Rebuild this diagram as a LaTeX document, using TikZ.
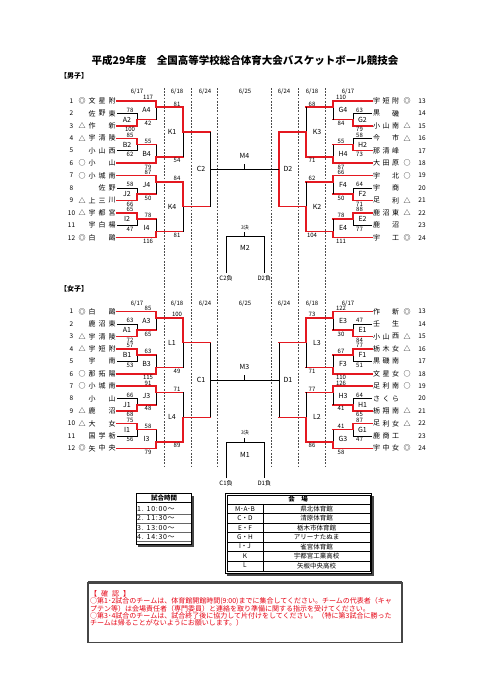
\documentclass[tikz,border=0pt]{standalone}
\usepackage{fontspec}
\setmainfont{Noto Sans CJK JP}
\definecolor{rline}{RGB}{228,24,32}
\definecolor{rtext}{RGB}{230,0,18}
\definecolor{dgray}{RGB}{70,70,70}
\newcount\nodecnt
\tikzset{
 nn/.code={\global\advance\nodecnt by 1\relax\edef\tmpnm{N\the\nodecnt}\pgfkeysalso{name/.expand once=\tmpnm}},
 rd/.style={draw=rline,line width=1.5pt,line cap=rect},
 bk/.style={draw=black,line width=0.6pt},
 dsh/.style={draw=black!70,line width=0.5pt,dash pattern=on 1.8pt off 1.4pt},
 team/.style={font=\fontsize{7}{7}\selectfont,inner sep=0pt},
 num/.style={font=\fontsize{6.5}{6.5}\selectfont,inner sep=0pt},
 scr/.style={font=\fontsize{6}{6}\selectfont,inner sep=0pt},
 mlab/.style={font=\fontsize{7}{7}\selectfont,inner sep=0pt},
 dt/.style={font=\fontsize{6}{6}\selectfont,inner sep=0pt},
 note/.style={font=\fontsize{7}{7}\selectfont,text=rtext,inner sep=0pt,anchor=west},
 tbl/.style={font=\fontsize{6.5}{6.5}\selectfont,inner sep=0pt},
 tim/.style={font=\fontsize{7}{7}\selectfont\addfontfeature{LetterSpace=10},inner sep=0pt,anchor=west},
}
\newcommand\YY[1]{(\base+6.215*(#1))}
% team rows
\newcommand\tmL[6]{%
 \node[num,nn] at (71.5,{\YY{#1}}) {#2};
 \ifx&#3&\else\node[team,nn] at (82,{\YY{#1}}) {#3};\fi
 \ifx&#4&\else\node[team,nn] at (92,{\YY{#1}}) {#4};\fi
 \ifx&#5&\else\node[team,nn] at (102,{\YY{#1}}) {#5};\fi
 \ifx&#6&\else\node[team,nn] at (112,{\YY{#1}}) {#6};\fi}
\newcommand\tmR[6]{%
 \node[num,nn] at (422,{\YY{#1}}) {#2};
 \ifx&#3&\else\node[team,nn] at (407,{\YY{#1}}) {#3};\fi
 \ifx&#4&\else\node[team,nn] at (376.5,{\YY{#1}}) {#4};\fi
 \ifx&#5&\else\node[team,nn] at (386,{\YY{#1}}) {#5};\fi
 \ifx&#6&\else\node[team,nn] at (395.5,{\YY{#1}}) {#6};\fi}
% bracket pieces
\newcommand\seedl[1]{\draw[rd] (\xT,{\YY{#1}}) -- (\xB,{\YY{#1}});}
\newcommand\mtA[4]{%
 \draw[#3] (\xT,{\YY{#1}}) -- (\xA,{\YY{#1}}) -- (\xA,{\YY{#1+1}});
 \draw[#4] (\xT,{\YY{#2}}) -- (\xA,{\YY{#2}}) -- (\xA,{\YY{#1+1}});
 \draw[rd] (\xA,{\YY{#1+1}}) -- (\xB,{\YY{#1+1}});}
\newcommand\mtB[5]{%
 \draw[#4] (\xB,{\YY{#1}}) -- (\xB,{\YY{#3}});
 \draw[#5] (\xB,{\YY{#2}}) -- (\xB,{\YY{#3}});
 \draw[rd] (\xB,{\YY{#3}}) -- (\xC,{\YY{#3}});}
\newcommand\mtC[4]{%
 \draw[#3] (\xC,{\YY{#1}}) -- (\xC,{\YY{(#1+#2)/2}});
 \draw[#4] (\xC,{\YY{#2}}) -- (\xC,{\YY{(#1+#2)/2}});
 \draw[rd] (\xC,{\YY{(#1+#2)/2}}) -- (\xD,{\YY{(#1+#2)/2}});}
% scores and labels
\newcommand\scA[3]{\node[scr,anchor=south,nn] at (#1,{\YY{#2}-0.9}) {#3};}
\newcommand\scB[3]{\node[scr,anchor=north,nn] at (#1,{\YY{#2}+1.3}) {#3};}
\newcommand\mlb[3]{\node[mlab,nn] at (#1,{\YY{#2}}) {#3};}
% side setups
\newcommand\leftside{\def\xT{117}\def\xA{137}\def\xB{156}\def\xC{183}\def\xD{210}%
 \def\sA{130}\def\sB{148}\def\sC{177}\def\lA{127}\def\lB{146.5}\def\lC{172}}
\newcommand\rightside{\def\xT{372}\def\xA{353}\def\xB{333}\def\xC{306}\def\xD{279}%
 \def\sA{359.5}\def\sB{341}\def\sC{312}\def\lA{362.5}\def\lB{343}\def\lC{317}}
\begin{document}
\begin{tikzpicture}[x=1pt,y=-1pt]
\useasboundingbox (0,0) rectangle (481,680);
\fill[white] (0,0) rectangle (481,680);
% title
\node[nn,font=\fontsize{10.5}{10.5}\selectfont\bfseries,inner sep=0pt] (title) at (245,60) {平成29年度　全国高等学校総合体育大会バスケットボール競技会};
\node[nn,font=\fontsize{7}{7}\selectfont\bfseries,inner sep=0pt] (boyslab) at (74,76) {【男子】};
\node[nn,font=\fontsize{7}{7}\selectfont\bfseries,inner sep=0pt] (girlslab) at (74,289) {【女子】};
% dashed day separators
\foreach \x in {164,191,217,271,298,325} \draw[dsh] (\x,88) -- (\x,468);
% date headers
\foreach \yy in {92,304}{
 \node[dt,nn] at (137,\yy) {6/17};
 \node[dt,nn] at (177,\yy) {6/18};
 \node[dt,nn] at (205,\yy) {6/24};
 \node[dt,nn] at (245,\yy) {6/25};
 \node[dt,nn] at (284,\yy) {6/24};
 \node[dt,nn] at (312,\yy) {6/18};
 \node[dt,nn] at (348,\yy) {6/17};
}
%================ BOYS =================
\def\base{101}
\tmL{0}{1}{◎}{文}{星}{附}
\tmL{2}{2}{}{佐}{野}{東}
\tmL{4}{3}{△}{作}{}{新}
\tmL{6}{4}{△}{宇}{清}{陵}
\tmL{8}{5}{}{小}{山}{西}
\tmL{10}{6}{○}{小}{}{山}
\tmL{12}{7}{○}{小}{城}{南}
\tmL{14}{8}{}{}{佐}{野}
\tmL{16}{9}{△}{上}{三}{川}
\tmL{18}{10}{△}{宇}{都}{宮}
\tmL{20}{11}{}{宇}{白}{楊}
\tmL{22}{12}{◎}{白}{}{鷗}
\tmR{0}{13}{◎}{宇}{短}{附}
\tmR{2}{14}{}{黒}{}{磯}
\tmR{4}{15}{△}{小}{山}{南}
\tmR{6}{16}{△}{今}{}{市}
\tmR{8}{17}{}{那}{清}{峰}
\tmR{10}{18}{○}{大}{田}{原}
\tmR{12}{19}{○}{宇}{}{北}
\tmR{14}{20}{}{宇}{}{商}
\tmR{16}{21}{△}{足}{}{利}
\tmR{18}{22}{△}{鹿}{沼}{東}
\tmR{20}{23}{}{鹿}{}{沼}
\tmR{22}{24}{◎}{宇}{}{工}
% boys left bracket
\leftside
\mtA{2}{4}{bk}{rd}\mtA{6}{8}{rd}{bk}\mtA{14}{16}{bk}{rd}\mtA{18}{20}{rd}{bk}
\seedl{0}\seedl{10}\seedl{12}\seedl{22}
\mtB{0}{3}{1}{rd}{bk}\mtB{7}{10}{9}{bk}{rd}\mtB{12}{15}{13}{rd}{bk}\mtB{19}{22}{21}{bk}{rd}
\mtC{1}{9}{rd}{bk}\mtC{13}{21}{rd}{bk}
\draw[bk] (\xD,{\YY{5}}) -- (\xD,{\YY{17}});
\scA{\sA}{2}{78}\scB{\sA}{4}{100}\scA{\sA}{6}{85}\scB{\sA}{8}{62}
\scA{\sA}{14}{58}\scB{\sA}{16}{66}\scA{\sA}{18}{65}\scB{\sA}{20}{47}
\scA{\sB}{0}{117}\scB{\sB}{3}{42}\scA{\sB}{7}{55}\scB{\sB}{10}{79}
\scA{\sB}{12}{87}\scB{\sB}{15}{50}\scA{\sB}{19}{78}\scB{\sB}{22}{116}
\scA{\sC}{1}{81}\scB{\sC}{9}{54}\scA{\sC}{13}{84}\scB{\sC}{21}{81}
\mlb{\lA}{3}{A2}\mlb{\lA}{7}{B2}\mlb{\lA}{15}{J2}\mlb{\lA}{19}{I2}
\mlb{\lB}{1.5}{A4}\mlb{\lB}{8.5}{B4}\mlb{\lB}{13.5}{J4}\mlb{\lB}{20.5}{I4}
\mlb{\lC}{5}{K1}\mlb{\lC}{17}{K4}\mlb{201}{11}{C2}
% boys right bracket
\rightside
\mtA{2}{4}{bk}{rd}\mtA{6}{8}{bk}{rd}\mtA{14}{16}{bk}{rd}\mtA{18}{20}{rd}{bk}
\seedl{0}\seedl{10}\seedl{12}\seedl{22}
\mtB{0}{3}{1}{rd}{bk}\mtB{7}{10}{9}{bk}{rd}\mtB{12}{15}{13}{rd}{bk}\mtB{19}{22}{21}{bk}{rd}
\mtC{1}{9}{bk}{rd}\mtC{13}{21}{bk}{rd}
\draw[rd] (\xD,{\YY{5}}) -- (\xD,{\YY{17}});
\scA{\sA}{2}{63}\scB{\sA}{4}{79}\scA{\sA}{6}{58}\scB{\sA}{8}{73}
\scA{\sA}{14}{64}\scB{\sA}{16}{71}\scA{\sA}{18}{88}\scB{\sA}{20}{77}
\scA{\sB}{0}{110}\scB{\sB}{3}{84}\scA{\sB}{7}{55}\scB{\sB}{10}{87}
\scA{\sB}{12}{66}\scB{\sB}{15}{50}\scA{\sB}{19}{78}\scB{\sB}{22}{111}
\scA{\sC}{1}{68}\scB{\sC}{9}{71}\scA{\sC}{13}{62}\scB{\sC}{21}{104}
\mlb{\lA}{3}{G2}\mlb{\lA}{7}{H2}\mlb{\lA}{15}{F2}\mlb{\lA}{19}{E2}
\mlb{\lB}{1.5}{G4}\mlb{\lB}{8.5}{H4}\mlb{\lB}{13.5}{F4}\mlb{\lB}{20.5}{E4}
\mlb{\lC}{5}{K3}\mlb{\lC}{17}{K2}\mlb{288}{11}{D2}
% boys final
\coordinate (c2o) at (210,{\YY{11}});
\coordinate (d2o) at (279,{\YY{11}});
\coordinate (m4t) at (244.5,{\YY{11}});
\draw[bk] (c2o) -- (d2o);
\draw[bk] (m4t) -- ++(0,-5);
\node[mlab,nn] at (244.5,156) {M4};
\node[nn,font=\fontsize{5}{5}\selectfont,inner sep=0pt] at (245,227.7) {3決};
\draw[bk] (226,273) -- (226,236.7) -- (264.3,236.7) -- (264.3,273);
\draw[bk] (244.5,236.7) -- (244.5,232);
\node[mlab,nn] at (245,248) {M2};
\node[scr,nn] at (226,278.5) {C2負};
\node[scr,nn] at (264.3,278.5) {D2負};
%================ GIRLS =================
\def\base{311.6}
\tmL{0}{1}{◎}{白}{}{鷗}
\tmL{2}{2}{}{鹿}{沼}{東}
\tmL{4}{3}{△}{宇}{清}{陵}
\tmL{6}{4}{△}{宇}{短}{附}
\tmL{8}{5}{}{宇}{}{南}
\tmL{10}{6}{○}{那}{拓}{陽}
\tmL{12}{7}{○}{小}{城}{南}
\tmL{14}{8}{}{小}{}{山}
\tmL{16}{9}{△}{鹿}{}{沼}
\tmL{18}{10}{△}{大}{}{女}
\tmL{20}{11}{}{国}{学}{栃}
\tmL{22}{12}{◎}{矢}{中}{央}
\tmR{0}{13}{◎}{作}{}{新}
\tmR{2}{14}{}{壬}{}{生}
\tmR{4}{15}{△}{小}{山}{西}
\tmR{6}{16}{△}{栃}{木}{女}
\tmR{8}{17}{}{黒}{磯}{南}
\tmR{10}{18}{○}{文}{星}{女}
\tmR{12}{19}{○}{足}{利}{南}
\tmR{14}{20}{}{さ}{く}{ら}
\tmR{16}{21}{△}{栃}{翔}{南}
\tmR{18}{22}{△}{足}{利}{女}
\tmR{20}{23}{}{鹿}{商}{工}
\tmR{22}{24}{◎}{宇}{中}{女}
% girls left
\leftside
\mtA{2}{4}{bk}{rd}\mtA{6}{8}{rd}{bk}\mtA{14}{16}{bk}{rd}\mtA{18}{20}{rd}{bk}
\seedl{0}\seedl{10}\seedl{12}\seedl{22}
\mtB{0}{3}{1}{rd}{bk}\mtB{7}{10}{9}{bk}{rd}\mtB{12}{15}{13}{rd}{bk}\mtB{19}{22}{21}{bk}{rd}
\mtC{1}{9}{rd}{bk}\mtC{13}{21}{bk}{rd}
\draw[bk] (\xD,{\YY{5}}) -- (\xD,{\YY{17}});
\scA{\sA}{2}{63}\scB{\sA}{4}{72}\scA{\sA}{6}{57}\scB{\sA}{8}{53}
\scA{\sA}{14}{66}\scB{\sA}{16}{68}\scA{\sA}{18}{75}\scB{\sA}{20}{56}
\scA{\sB}{0}{85}\scB{\sB}{3}{65}\scA{\sB}{7}{63}\scB{\sB}{10}{115}
\scA{\sB}{12}{91}\scB{\sB}{15}{48}\scA{\sB}{19}{58}\scB{\sB}{22}{79}
\scA{\sC}{1}{100}\scB{\sC}{9}{49}\scA{\sC}{13}{71}\scB{\sC}{21}{89}
\mlb{\lA}{3}{A1}\mlb{\lA}{7}{B1}\mlb{\lA}{15}{J1}\mlb{\lA}{19}{I1}
\mlb{\lB}{1.5}{A3}\mlb{\lB}{8.5}{B3}\mlb{\lB}{13.5}{J3}\mlb{\lB}{20.5}{I3}
\mlb{\lC}{5}{L1}\mlb{\lC}{17}{L4}\mlb{201}{11}{C1}
% girls right
\rightside
\mtA{2}{4}{bk}{rd}\mtA{6}{8}{rd}{bk}\mtA{14}{16}{bk}{rd}\mtA{18}{20}{rd}{bk}
\seedl{0}\seedl{10}\seedl{12}\seedl{22}
\mtB{0}{3}{1}{rd}{bk}\mtB{7}{10}{9}{bk}{rd}\mtB{12}{15}{13}{rd}{bk}\mtB{19}{22}{21}{bk}{rd}
\mtC{1}{9}{rd}{bk}\mtC{13}{21}{bk}{rd}
\draw[bk] (\xD,{\YY{5}}) -- (\xD,{\YY{17}});
\scA{\sA}{2}{47}\scB{\sA}{4}{84}\scA{\sA}{6}{77}\scB{\sA}{8}{51}
\scA{\sA}{14}{64}\scB{\sA}{16}{65}\scA{\sA}{18}{87}\scB{\sA}{20}{47}
\scA{\sB}{0}{122}\scB{\sB}{3}{30}\scA{\sB}{7}{67}\scB{\sB}{10}{110}
\scA{\sB}{12}{126}\scB{\sB}{15}{41}\scA{\sB}{19}{41}\scB{\sB}{22}{58}
\scA{\sC}{1}{73}\scB{\sC}{9}{71}\scA{\sC}{13}{77}\scB{\sC}{21}{86}
\mlb{\lA}{3}{E1}\mlb{\lA}{7}{F1}\mlb{\lA}{15}{H1}\mlb{\lA}{19}{G1}
\mlb{\lB}{1.5}{E3}\mlb{\lB}{8.5}{F3}\mlb{\lB}{13.5}{H3}\mlb{\lB}{20.5}{G3}
\mlb{\lC}{5}{L3}\mlb{\lC}{17}{L2}\mlb{288}{11}{D1}
% girls final
\coordinate (c1o) at (210,{\YY{11}});
\coordinate (d1o) at (279,{\YY{11}});
\coordinate (m3t) at (244.5,{\YY{11}});
\draw[bk] (c1o) -- (d1o);
\draw[bk] (m3t) -- ++(0,-5);
\node[mlab,nn] at (244.5,366.6) {M3};
\node[nn,font=\fontsize{5}{5}\selectfont,inner sep=0pt] at (245,433) {3決};
\draw[bk] (226,478) -- (226,442) -- (264.3,442) -- (264.3,478);
\draw[bk] (244.5,442) -- (244.5,437.5);
\node[mlab,nn] at (245,455) {M1};
\node[scr,nn] at (226,483.5) {C1負};
\node[scr,nn] at (264.3,483.5) {D1負};
%================ TABLES =================
% time table
\fill[dgray] (138.2,495.5) rectangle (193.9,546.5);
\draw[fill=white,line width=0.8pt] (136,493.3) rectangle (191.7,544.3);
\node[nn,tbl,font=\fontsize{6.5}{6.5}\selectfont\bfseries] at (164,497.6) {試合時間};
\draw[line width=0.6pt] (136,502) -- (191.7,502);
\foreach \yy in {513.7,523,532.3,541.6} \draw[line width=0.3pt,black!60] (136.5,\yy) -- (191.2,\yy);
\node[nn,tim] at (137,509) {1. 10:00～};
\node[nn,tim] at (137,518.3) {2. 11:30～};
\node[nn,tim] at (137,527.7) {3. 13:00～};
\node[nn,tim] at (137,537.2) {4. 14:30～};
% venue table
\fill[dgray] (227.2,495.5) rectangle (373.9,575.5);
\draw[fill=white,line width=0.8pt] (225,493.3) rectangle (371.7,573.3);
\draw[line width=0.4pt] (226.8,495) rectangle (369.9,571.6);
\node[nn,tbl,font=\fontsize{6.5}{6.5}\selectfont\bfseries] at (298,498.8) {会　場};
\draw[line width=0.5pt] (226.8,503.8) -- (369.9,503.8);
\foreach \yy in {513.6,523,532.4,541.8,551.3,560.8} \draw[line width=0.4pt] (226.8,\yy) -- (369.9,\yy);
\draw[line width=0.4pt] (263.3,503.8) -- (263.3,571.6);
\foreach \yy/\a/\b in {508.8/M･A･B/県北体育館,518.3/C・D/清原体育館,527.7/E・F/栃木市体育館,537.1/G・H/アリーナたぬま,546.6/I・J/雀宮体育館,556.1/K/宇都宮工業高校,565.6/L/矢板中央高校}{
 \node[nn,tbl] at (245,\yy) {\a};
 \node[nn,tbl] at (316.5,\yy) {\b};
}
%================ NOTES =================
\draw[line width=1.2pt,dgray] (88,582.5) rectangle (402,642.5);
\draw[line width=2.5pt,dgray] (88,582.5) -- (402,582.5);
\node[note,nn] at (90,594) {【\hspace{4pt}確\hspace{4pt}認\hspace{4pt}】};
\node[note,nn] at (90,601.3) {○第1･2試合のチームは、体育館開館時間(9:00)までに集合してください。チームの代表者（キャ};
\node[note,nn] at (90,608.6) {プテン等）は会場責任者（専門委員）と連絡を取り準備に関する指示を受けてください。};
\node[note,nn] at (90,616) {○第3･4試合のチームは、試合終了後に協力して片付けをしてください。（特に第3試合に勝った};
\node[note,nn] at (90,623.3) {チームは帰ることがないようにお願いします。）};
\end{tikzpicture}
\end{document}
